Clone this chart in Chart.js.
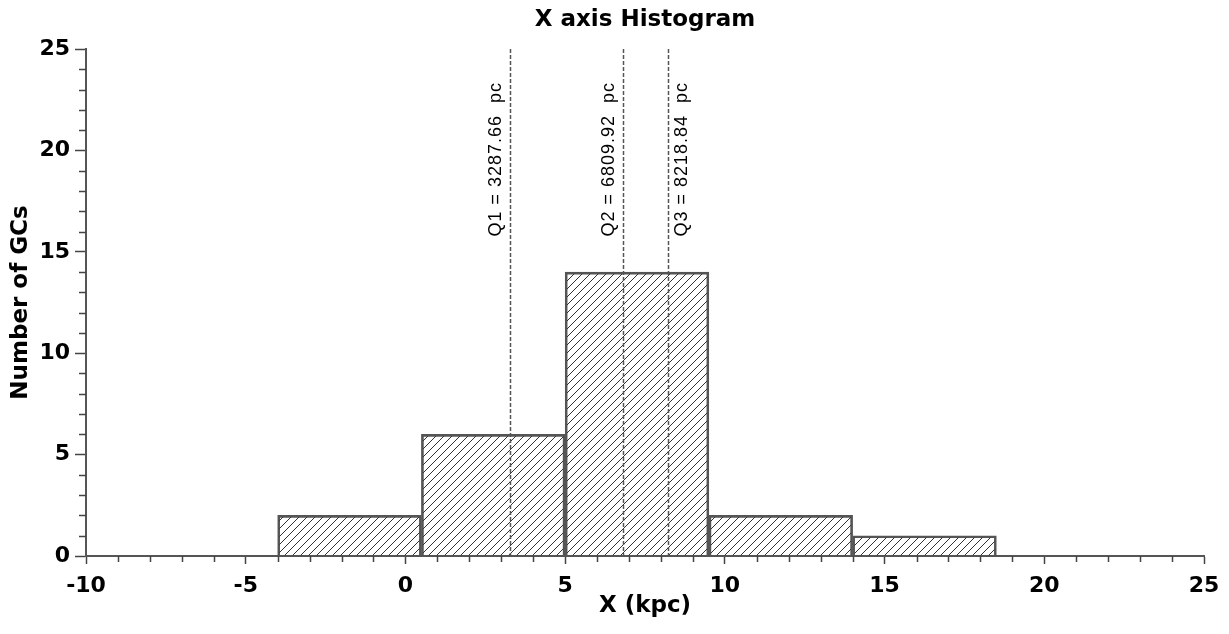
<!DOCTYPE html>
<html lang="en">
<head>
  <meta charset="UTF-8">
  <title>X axis Histogram</title>
  <style>
    html, body { margin: 0; padding: 0; background: #fff; }
    #wrap { width: 1229px; height: 634px; }
  </style>
  <script src="https://cdn.jsdelivr.net/npm/chart.js"></script>
</head>
<body>
  <div id="wrap"><canvas id="histChart" width="1229" height="634"></canvas></div>

  <script>
    // histogram bins (kpc) and counts
    const binEdges = [-4, 0.5, 5, 9.5, 14, 18.5];
    const binCounts = [2, 6, 14, 2, 1];

    // quartiles (pc)
    const quartileNames = ['Q1', 'Q2', 'Q3'];
    const quartileValues = [3287.66, 6809.92, 8218.84];
    const quartileLabelSide = [-1, -1, 1]; // label left (-1) or right (1) of line

    // axis ranges / ticks
    const xRange = [-10, 25];
    const yRange = [0, 25];
    const majorStep = 5;
    const minorStep = 1;

    const FONT = '"DejaVu Sans", Verdana, sans-serif';

    // hatch fill
    function makeHatch() {
      const c = document.createElement('canvas');
      c.width = 8; c.height = 8;
      const g = c.getContext('2d');
      g.strokeStyle = '#333';
      g.lineWidth = 1;
      g.beginPath();
      g.moveTo(-1, 9); g.lineTo(9, -1);
      g.moveTo(-1, 1); g.lineTo(1, -1);
      g.moveTo(7, 9); g.lineTo(9, 7);
      g.stroke();
      return g.createPattern(c, 'repeat');
    }

    const barData = binCounts.map((n, i) => ({ x: (binEdges[i] + binEdges[i + 1]) / 2, y: n }));

    // minor ticks on both axes
    const minorTicks = {
      id: 'minorTicks',
      afterDraw(chart) {
        const ctx = chart.ctx;
        const xs = chart.scales.x, ys = chart.scales.y;
        ctx.save();
        ctx.strokeStyle = '#444';
        ctx.lineWidth = 1.5;
        ctx.beginPath();
        for (let v = xRange[0]; v <= xRange[1]; v += minorStep) {
          if (v % majorStep === 0) continue;
          const px = Math.round(xs.getPixelForValue(v)) + 0.5;
          ctx.moveTo(px, ys.bottom); ctx.lineTo(px, ys.bottom + 6);
        }
        for (let v = yRange[0]; v <= yRange[1]; v += minorStep) {
          if (v % majorStep === 0) continue;
          const py = Math.round(ys.getPixelForValue(v)) + 0.5;
          ctx.moveTo(xs.left, py); ctx.lineTo(xs.left - 7, py);
        }
        ctx.stroke();
        ctx.restore();
      }
    };

    // dashed quartile lines with rotated labels
    const quartileLines = {
      id: 'quartileLines',
      afterDatasetsDraw(chart) {
        const ctx = chart.ctx;
        const xs = chart.scales.x, ys = chart.scales.y;
        ctx.save();
        quartileValues.forEach((q, i) => {
          const px = Math.round(xs.getPixelForValue(q / 1000)) + 0.5;
          ctx.strokeStyle = '#555';
          ctx.lineWidth = 1.5;
          ctx.setLineDash([4, 2]);
          ctx.beginPath();
          ctx.moveTo(px, ys.top);
          ctx.lineTo(px, ys.bottom);
          ctx.stroke();

          ctx.save();
          ctx.translate(px + quartileLabelSide[i] * 14, ys.top + 33);
          ctx.rotate(-Math.PI / 2);
          ctx.fillStyle = '#000';
          ctx.font = '18px "Liberation Sans", Arial, sans-serif';
          ctx.letterSpacing = '1px';
          ctx.textAlign = 'right';
          ctx.textBaseline = 'middle';
          ctx.fillText(quartileNames[i] + ' = ' + q.toFixed(2) + '  pc', 0, 0);
          ctx.restore();
        });
        ctx.restore();
      }
    };

    new Chart(document.getElementById('histChart'), {
      type: 'bar',
      data: {
        datasets: [{
          label: 'GCs',
          data: barData,
          backgroundColor: makeHatch(),
          borderColor: '#555',
          borderWidth: 2,
          barPercentage: 1,
          categoryPercentage: 1
        }]
      },
      options: {
        responsive: false,
        animation: false,
        layout: { padding: { left: 0, right: 25, top: 0, bottom: 0 } },
        plugins: {
          legend: { display: false },
          tooltip: { enabled: false },
          title: {
            display: true,
            fullSize: false,
            text: 'X axis Histogram',
            color: '#000',
            font: { family: FONT, size: 23, weight: 'bold' },
            padding: { top: 6, bottom: 15.4 }
          }
        },
        scales: {
          x: {
            type: 'linear',
            min: xRange[0], max: xRange[1],
            offset: false,
            afterFit(s) { s.height = 78; },
            ticks: {
              stepSize: majorStep,
              autoSkip: false, maxRotation: 0,
              color: '#000',
              padding: 9,
              font: { family: FONT, size: 22, weight: 'bold' }
            },
            grid: { drawOnChartArea: false, offset: false, tickLength: 8, color: '#444', tickWidth: 1.5 },
            border: { color: '#555', width: 2 },
            title: {
              display: true, text: 'X (kpc)', color: '#000',
              font: { family: FONT, size: 23, weight: 'bold' },
              padding: { top: 0, bottom: 14 }
            }
          },
          y: {
            min: yRange[0], max: yRange[1],
            afterFit(s) { s.width = 86; },
            ticks: {
              stepSize: majorStep,
              color: '#000',
              padding: 5,
              font: { family: FONT, size: 22, weight: 'bold' }
            },
            grid: { drawOnChartArea: false, tickLength: 11, color: '#444', tickWidth: 1.5 },
            border: { color: '#555', width: 2 },
            title: {
              display: true, text: 'Number of GCs', color: '#000',
              font: { family: FONT, size: 23, weight: 'bold' },
              padding: { top: 7, bottom: 0 }
            }
          }
        }
      },
      plugins: [minorTicks, quartileLines]
    });
  </script>
</body>
</html>
